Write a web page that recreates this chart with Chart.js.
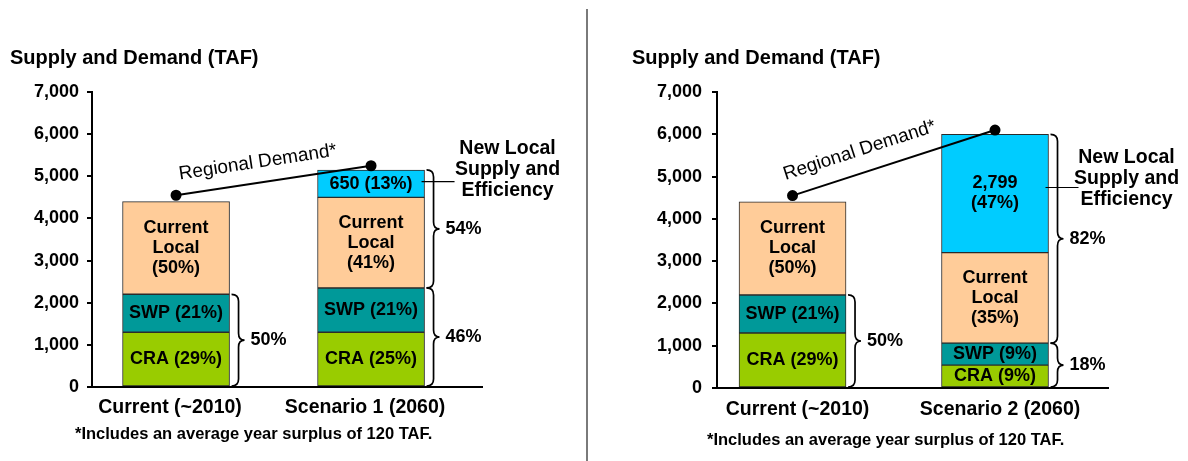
<!DOCTYPE html>
<html>
<head>
<meta charset="utf-8">
<title>Supply and Demand (TAF)</title>
<script src="https://cdn.jsdelivr.net/npm/chart.js@4.4.1/dist/chart.umd.min.js"></script>
<style>
  body { margin: 0; padding: 0; background: #fff; }
  #wrap { position: relative; width: 1188px; height: 461px; overflow: hidden; background: #fff; }
  #leftBox { position: absolute; left: 0; top: 0; }
  #rightBox { position: absolute; left: 588px; top: 0; }
  #divider { position: absolute; left: 586px; top: 9px; width: 2px; height: 452px; background: #7a7a7a; }
</style>
</head>
<body>
<div id="wrap">
  <div id="leftBox"><canvas id="chartLeft" width="587" height="461"></canvas></div>
  <div id="divider"></div>
  <div id="rightBox"><canvas id="chartRight" width="600" height="461"></canvas></div>
</div>
<script>
// ---- data (TAF) ----
const yTicks = [0, 1000, 2000, 3000, 4000, 5000, 6000, 7000];
const chartTitle = 'Supply and Demand (TAF)';
const footnote = '*Includes an average year surplus of 120 TAF.';
const demandLabel = 'Regional Demand*';
const newLocalLabel = ['New Local', 'Supply and', 'Efficiency'];
const seriesNames = ['CRA', 'SWP', 'Current Local', 'New Local Supply and Efficiency'];

// left panel: Current vs Scenario 1
const categoriesS1 = ['Current (~2010)', 'Scenario 1 (2060)'];
const craS1 = [1300, 1300];
const swpS1 = [900, 1050];
const localS1 = [2200, 2150];
const newS1 = [null, 650];
const demandS1 = [4550, 5250];
const textS1 = [
  ['CRA (29%)', 'CRA (25%)'],
  ['SWP (21%)', 'SWP (21%)'],
  ['Current\nLocal\n(50%)', 'Current\nLocal\n(41%)'],
  [null, '650 (13%)']
];
const bracesS1 = [
  { bar: 0, from: 0, to: 1, text: '50%' },
  { bar: 1, from: 0, to: 1, text: '46%' },
  { bar: 1, from: 2, to: 3, text: '54%' }
];

// right panel: Current vs Scenario 2
const categoriesS2 = ['Current (~2010)', 'Scenario 2 (2060)'];
const craS2 = [1300, 540];
const swpS2 = [900, 520];
const localS2 = [2200, 2140];
const newS2 = [null, 2799];
const demandS2 = [4550, 6100];
const textS2 = [
  ['CRA (29%)', 'CRA (9%)'],
  ['SWP (21%)', 'SWP (9%)'],
  ['Current\nLocal\n(50%)', 'Current\nLocal\n(35%)'],
  [null, '2,799\n(47%)']
];
const bracesS2 = [
  { bar: 0, from: 0, to: 1, text: '50%' },
  { bar: 1, from: 0, to: 1, text: '18%' },
  { bar: 1, from: 2, to: 3, text: '82%' }
];

const colors = ['#99cc00', '#009999', '#ffcc99', '#00ccff'];
const fontFamily = "'Liberation Sans', Arial, Helvetica, sans-serif";

Chart.defaults.font.family = fontFamily;
Chart.defaults.color = '#000';

// curly brace opening to the left, pointing right
function drawBrace(ctx, x, top, bot) {
  const w = 13, r = 7, xm = x + 7, mid = (top + bot) / 2;
  ctx.beginPath();
  ctx.moveTo(x, top);
  ctx.quadraticCurveTo(xm, top, xm, top + r);
  ctx.lineTo(xm, mid - r);
  ctx.quadraticCurveTo(xm, mid, x + w, mid);
  ctx.quadraticCurveTo(xm, mid, xm, mid + r);
  ctx.lineTo(xm, bot - r);
  ctx.quadraticCurveTo(xm, bot, x, bot);
  ctx.lineWidth = 1.7;
  ctx.strokeStyle = '#000';
  ctx.stroke();
}

const annotations = {
  id: 'annotations',
  afterDraw(chart, args, opts) {
    const ctx = chart.ctx;
    const area = chart.chartArea;
    ctx.save();
    ctx.fillStyle = '#000';

    // labels inside the bar segments
    ctx.font = 'bold 18px ' + fontFamily;
    ctx.textAlign = 'center';
    ctx.textBaseline = 'middle';
    opts.segText.forEach((labels, d) => {
      const meta = chart.getDatasetMeta(d);
      meta.data.forEach((bar, i) => {
        if (!labels[i] || isNaN(bar.y)) return;
        const lines = labels[i].split('\n');
        const cy = (bar.y + bar.base) / 2;
        lines.forEach((ln, k) => {
          ctx.fillText(ln, bar.x, cy + (k - (lines.length - 1) / 2) * 20);
        });
      });
    });

    // braces with shares
    opts.braces.forEach(b => {
      const lo = chart.getDatasetMeta(b.from).data[b.bar];
      const hi = chart.getDatasetMeta(b.to).data[b.bar];
      const x = lo.x + lo.width / 2 + 2;
      drawBrace(ctx, x, hi.y, lo.base);
      ctx.font = 'bold 18px ' + fontFamily;
      ctx.textAlign = 'left';
      ctx.fillText(b.text, x + 19, (hi.y + lo.base) / 2);
    });

    // leader to "New Local Supply and Efficiency"
    const seg = chart.getDatasetMeta(3).data[1];
    const segRight = seg.x + seg.width / 2;
    const ly = (seg.y + seg.base) / 2 - opts.leaderLift;
    ctx.beginPath();
    ctx.moveTo(segRight - 3, ly);
    ctx.lineTo(segRight + 30, ly);
    ctx.lineWidth = 1.2;
    ctx.stroke();
    ctx.font = 'bold 19.5px ' + fontFamily;
    ctx.textAlign = 'center';
    newLocalLabel.forEach((ln, k) => {
      ctx.fillText(ln, segRight + opts.leaderDx, ly - opts.labelLift + (k - 1) * 21);
    });

    // "Regional Demand*" along the demand line
    const pts = chart.getDatasetMeta(4).data;
    const ang = Math.atan2(pts[1].y - pts[0].y, pts[1].x - pts[0].x);
    ctx.save();
    ctx.translate(pts[0].x, pts[0].y);
    ctx.rotate(ang);
    ctx.font = '19px ' + fontFamily;
    ctx.textAlign = 'left';
    ctx.textBaseline = 'alphabetic';
    ctx.fillText(demandLabel, opts.demandAlong, -opts.demandPerp);
    ctx.restore();

    // footnote
    ctx.font = 'bold 16.5px ' + fontFamily;
    ctx.textAlign = 'left';
    ctx.textBaseline = 'middle';
    ctx.fillText(footnote, area.left + opts.footDx, area.bottom + opts.footDy);
    ctx.restore();
  }
};

function buildChart(canvasId, p) {
  const series = [p.cra, p.swp, p.local, p.fresh];
  const datasets = series.map((vals, d) => ({
    type: 'bar',
    label: seriesNames[d],
    data: vals.map((v, i) => ({ x: i, y: v })),
    backgroundColor: colors[d],
    borderColor: '#2b2b2b',
    borderWidth: 1,
    borderSkipped: false,
    barThickness: 107,
    stack: 'supply',
    order: 1
  }));
  datasets.push({
    type: 'line',
    label: 'Regional Demand',
    data: p.demand.map((v, i) => ({ x: i, y: v })),
    borderColor: '#000',
    borderWidth: 2,
    pointRadius: 4.5,
    pointBackgroundColor: '#000',
    pointBorderColor: '#000',
    stack: 'demand',
    order: 0
  });

  return new Chart(document.getElementById(canvasId), {
    data: { datasets: datasets },
    plugins: [annotations],
    options: {
      responsive: false,
      animation: false,
      layout: { padding: { left: p.padLeft, right: p.padRight, top: 0, bottom: 0 } },
      scales: {
        x: {
          type: 'linear',
          stacked: true,
          offset: false,
          min: p.xMin,
          max: p.xMax,
          afterBuildTicks: s => { s.ticks = p.categories.map((c, i) => ({ value: i })); },
          afterFit: s => { s.height = p.xHeight; },
          ticks: {
            callback: v => p.categories[v],
            font: { size: 19.5, weight: 'bold' },
            padding: p.xTickPad,
            labelOffset: p.xLabelShift,
            maxRotation: 0
          },
          grid: { offset: false, drawOnChartArea: false, drawTicks: false },
          border: { color: '#000', width: 2 }
        },
        y: {
          stacked: true,
          min: 0,
          max: 7000,
          afterBuildTicks: s => { s.ticks = yTicks.map(v => ({ value: v })); },
          afterFit: s => { s.width = p.yWidth; },
          ticks: {
            callback: v => v.toLocaleString('en-US'),
            font: { size: 18, weight: 'bold' },
            padding: p.yTickPad
          },
          grid: { drawOnChartArea: false, drawTicks: true, tickLength: 5, color: '#000', lineWidth: 2 },
          border: { color: '#000', width: 2 }
        }
      },
      plugins: {
        legend: { display: false },
        tooltip: { enabled: false },
        title: {
          display: true,
          text: chartTitle,
          align: 'start',
          color: '#000',
          font: { size: 20, weight: 'bold' },
          padding: { top: 46, bottom: 22 }
        },
        annotations: {
          segText: p.segText,
          braces: p.braces,
          leaderDx: p.leaderDx,
          leaderLift: p.leaderLift,
          labelLift: p.labelLift,
          demandAlong: p.demandAlong,
          demandPerp: p.demandPerp,
          footDx: p.footDx,
          footDy: p.footDy
        }
      }
    }
  });
}

buildChart('chartLeft', {
  categories: categoriesS1, cra: craS1, swp: swpS1, local: localS1, fresh: newS1,
  demand: demandS1, segText: textS1, braces: bracesS1,
  xMin: -0.431, xMax: 1.569, padLeft: 10, padRight: 105, yWidth: 82, xHeight: 74,
  yTickPad: 8, xTickPad: 9, xLabelShift: -6, leaderDx: 83, leaderLift: 2, labelLift: 12,
  demandAlong: 6, demandPerp: 15, footDx: -17, footDy: 47
});

buildChart('chartRight', {
  categories: categoriesS2, cra: craS2, swp: swpS2, local: localS2, fresh: newS2,
  demand: demandS2, segText: textS2, braces: bracesS2,
  xMin: -0.373, xMax: 1.558, padLeft: 44, padRight: 80, yWidth: 85, xHeight: 73,
  yTickPad: 10, xTickPad: 10, xLabelShift: 5, leaderDx: 78, leaderLift: 6, labelLift: 9,
  demandAlong: -2, demandPerp: 17, footDx: -10, footDy: 52
});
</script>
</body>
</html>
